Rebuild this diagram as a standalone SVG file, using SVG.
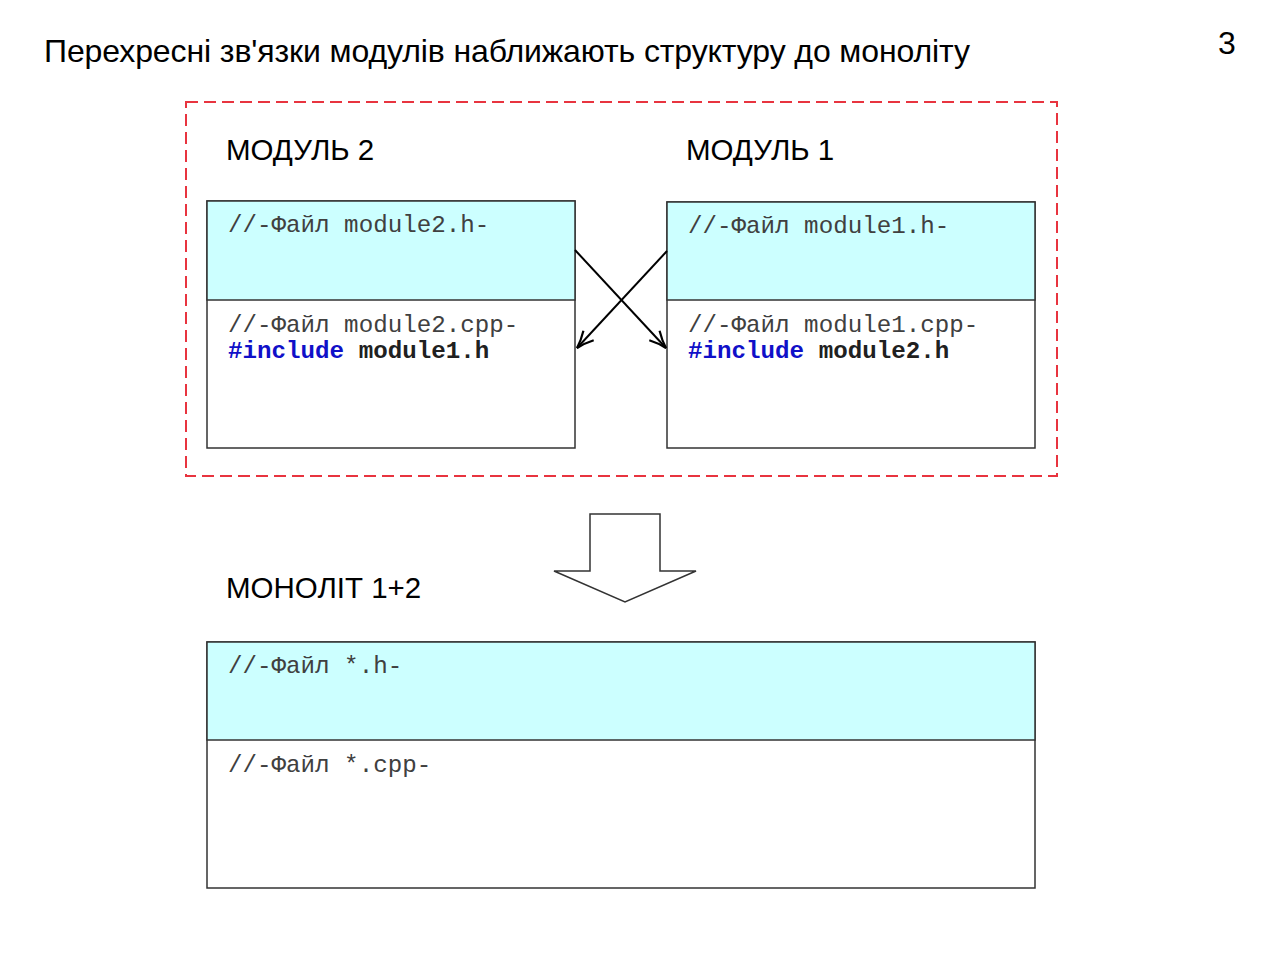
<svg xmlns="http://www.w3.org/2000/svg" width="1280" height="955" viewBox="0 0 1280 955">
<defs>
<style>
.title{font-family:"Liberation Sans",Arial,sans-serif;font-size:32px;fill:#000}
.lbl{font-family:"Liberation Sans",Arial,sans-serif;font-size:29.5px;fill:#000}
.code{font-family:"Liberation Mono","Courier New",monospace;font-size:24.2px;fill:#404040}
.kw{font-weight:bold;fill:#1010c8}
.bd{font-weight:bold;fill:#202020}
.box{fill:#fff;stroke:#333;stroke-width:1.5}
.hdr{fill:#ccffff;stroke:#333;stroke-width:1.5}
.conn{stroke:#000;stroke-width:2;fill:none}
</style>
<marker id="ah" viewBox="0 0 20 20" refX="18" refY="10" markerWidth="20" markerHeight="20" markerUnits="userSpaceOnUse" orient="auto">
<path d="M1,3 Q10,8 18,10 Q10,12 1,17" fill="none" stroke="#000" stroke-width="2.2"/>
</marker>
</defs>
<rect width="1280" height="955" fill="#fff"/>
<text class="title" x="44" y="62" textLength="926" lengthAdjust="spacing">Перехресні зв'язки модулів наближають структуру до моноліту</text>
<text class="title" x="1218" y="54">3</text>
<rect x="186" y="102" width="871" height="374" fill="none" stroke="#e8343f" stroke-width="2" stroke-dasharray="12,6"/>
<g id="module2">
<text class="lbl" x="226" y="160">МОДУЛЬ 2</text>
<rect class="box" x="207" y="201" width="368" height="247"/>
<rect class="hdr" x="207" y="201" width="368" height="99"/>
<text class="code" x="228" y="232">//-Файл module2.h-</text>
<text class="code" x="228" y="332">//-Файл module2.cpp-</text>
<text class="code" x="228" y="358"><tspan class="kw">#include</tspan> <tspan class="bd">module1.h</tspan></text>
</g>
<g id="module1">
<text class="lbl" x="686" y="160">МОДУЛЬ 1</text>
<rect class="box" x="667" y="202" width="368" height="246"/>
<rect class="hdr" x="667" y="202" width="368" height="98"/>
<text class="code" x="688" y="233">//-Файл module1.h-</text>
<text class="code" x="688" y="332">//-Файл module1.cpp-</text>
<text class="code" x="688" y="358"><tspan class="kw">#include</tspan> <tspan class="bd">module2.h</tspan></text>
</g>
<g id="monolith">
<text class="lbl" x="226" y="598">МОНОЛІТ 1+2</text>
<rect class="box" x="207" y="642" width="828" height="246"/>
<rect class="hdr" x="207" y="642" width="828" height="98"/>
<text class="code" x="228" y="673">//-Файл *.h-</text>
<text class="code" x="228" y="772">//-Файл *.cpp-</text>
</g>
<g id="connectors">
<line class="conn" x1="575" y1="250" x2="666" y2="348" marker-end="url(#ah)"/>
<line class="conn" x1="667" y1="251" x2="577" y2="348" marker-end="url(#ah)"/>
<path d="M590,514 L660,514 L660,571 L696,571 L625,602 L554,571 L590,571 Z" fill="#fff" stroke="#333" stroke-width="1.5"/>
</g>
</svg>
